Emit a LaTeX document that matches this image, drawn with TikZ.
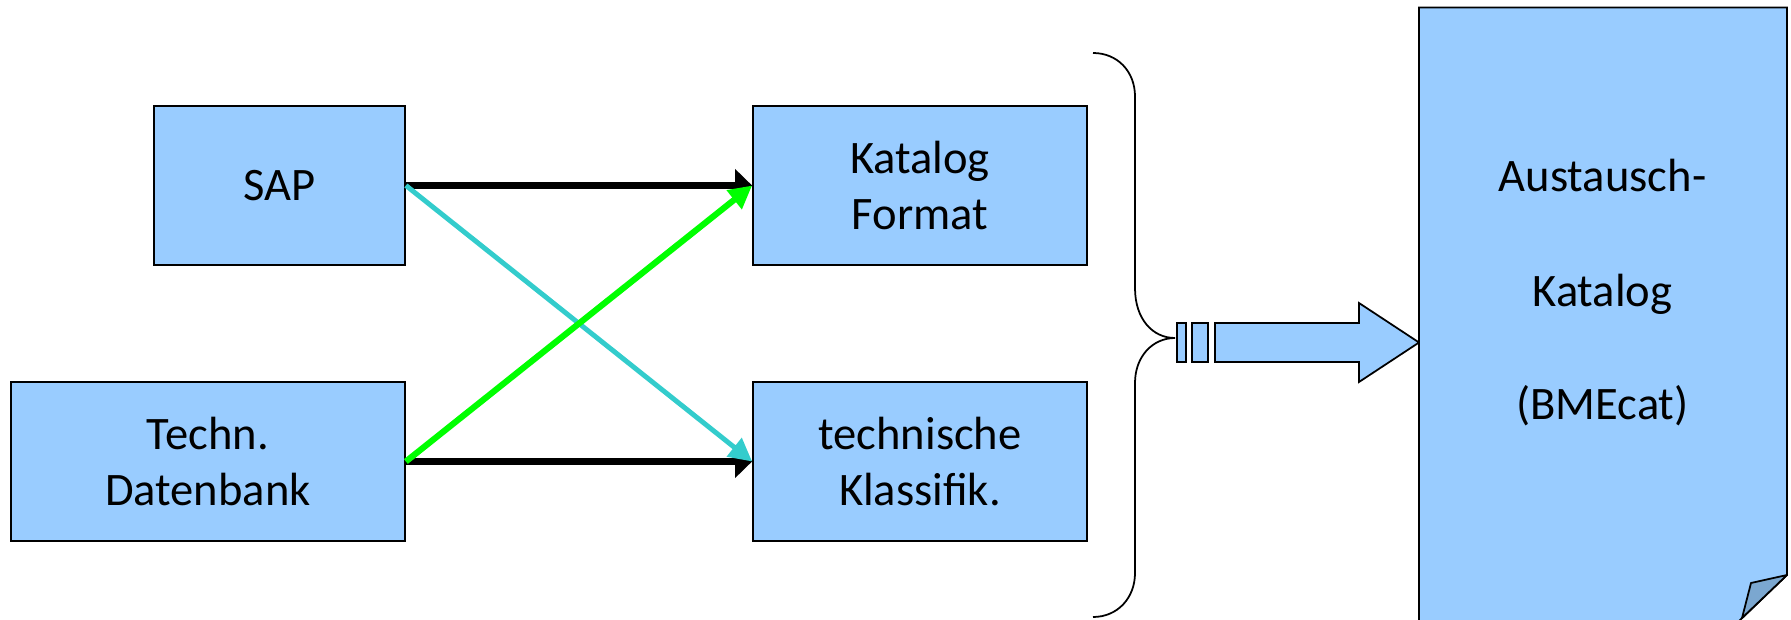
\documentclass[tikz,border=0pt]{standalone}
\usepackage{fontspec}
\setmainfont{Carlito}
\usetikzlibrary{arrows.meta}

\definecolor{boxblue}{HTML}{99CCFF}
\definecolor{foldblue}{HTML}{7BA7D0}
\definecolor{linecyan}{HTML}{33CCCC}
\definecolor{linegreen}{HTML}{00FF00}

\tikzset{
  srcbox/.style={draw=black, line width=1pt, fill=boxblue, inner sep=0pt, minimum height=3.18cm, align=center, font=\fontsize{26.5}{32}\selectfont},
  blackarrow/.style={line width=3.7pt, -{Triangle[length=0.34cm, width=0.64cm]}},
  cyanarrow/.style={linecyan, line width=2.8pt, -{Triangle[length=0.46cm, width=0.46cm]}},
  greenarrow/.style={linegreen, line width=3.5pt, -{Triangle[length=0.46cm, width=0.46cm]}},
  doctext/.style={anchor=base, font=\fontsize{26.5}{32}\selectfont}
}

\begin{document}
\begin{tikzpicture}[scale=1]
\useasboundingbox (0,0) rectangle (35.82,12.38);

\node [srcbox, minimum width=5.02cm] (sap) at (5.59, 8.67) {SAP};
\node [srcbox, minimum width=7.88cm] (db) at (4.16, 3.15) {Techn.\\Datenbank};
\node [srcbox, minimum width=6.68cm] (fmt) at (18.40, 8.67) {Katalog\\Format};
\node [srcbox, minimum width=6.68cm] (klass) at (18.40, 3.15) {technische\\Klassifik.};

\draw[blackarrow] (sap.east) -- (fmt.west);
\draw[blackarrow] (db.east) -- (klass.west);
\draw[cyanarrow] (sap.east) -- (klass.west);
\draw[greenarrow] (db.east) -- (fmt.west);

\draw[line width=1pt] (21.86,11.32) .. controls (22.35,11.32) and (22.70,10.95) .. (22.70,10.45) -- (22.70,6.62)
  .. controls (22.70,6.0) and (23.05,5.62) .. (23.50,5.62)
  .. controls (23.05,5.62) and (22.70,5.25) .. (22.70,4.72) -- (22.70,0.92)
  .. controls (22.70,0.42) and (22.35,0.04) .. (21.86,0.04);

\draw[line width=1pt, fill=boxblue] (23.54,5.14) rectangle (23.72,5.92);
\draw[line width=1pt, fill=boxblue] (23.84,5.14) rectangle (24.16,5.92);
\draw[line width=1pt, fill=boxblue] (24.30,5.92) -- (27.18,5.92) -- (27.18,6.32) -- (28.38,5.53)
  -- (27.18,4.74) -- (27.18,5.14) -- (24.30,5.14) -- cycle;

\draw[line width=1pt, fill=boxblue] (28.38,-0.1) -- (28.38,12.23) -- (35.74,12.23) -- (35.74,0.88)
  -- (34.75,-0.07) -- (34.75,-0.1) -- cycle;
\draw[line width=1pt, fill=foldblue, line join=round] (35.74,0.88) -- (35.02,0.72) -- (34.84,0.02) -- cycle;

\node [doctext] (doc1) at (32.05, 8.54) {Austausch-};
\node [doctext] (doc2) at (32.05, 6.24) {Katalog};
\node [doctext] (doc3) at (32.05, 3.98) {(BMEcat)};
\end{tikzpicture}
\end{document}
